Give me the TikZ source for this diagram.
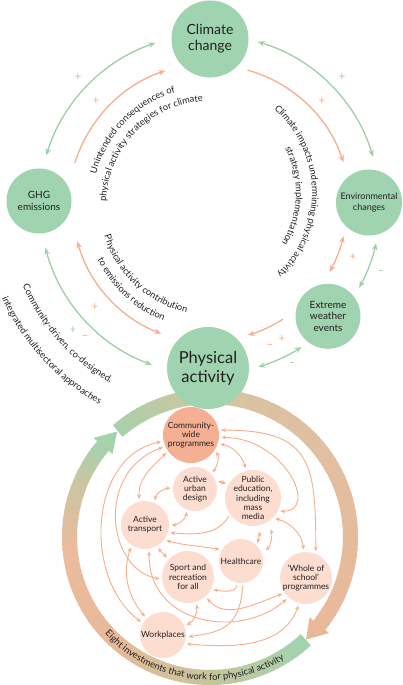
\documentclass[tikz,border=0pt]{standalone}
\usepackage{fontspec}
\setmainfont{Lato}
\usetikzlibrary{arrows.meta,calc,decorations.text}
\definecolor{gfill}{HTML}{A0D4B0}
\definecolor{garr}{HTML}{9CCFA8}
\definecolor{oarr}{HTML}{F7AE8B}
\definecolor{lfill}{HTML}{FDDDD0}
\definecolor{dfill}{HTML}{F5B093}
\definecolor{txt}{HTML}{231F20}
\definecolor{rA}{HTML}{A0D4AF}
\definecolor{rB}{HTML}{C6C59C}
\definecolor{rC}{HTML}{E9B99A}
\definecolor{rD}{HTML}{EBBB9D}
\definecolor{rE}{HTML}{CFC3A0}
\definecolor{rF}{HTML}{A5D2AD}
\definecolor{sA}{HTML}{A9D0AA}
\definecolor{sB}{HTML}{C3C9A3}
\definecolor{sC}{HTML}{D8C3A1}
\definecolor{sD}{HTML}{E3BEA0}
\definecolor{sE}{HTML}{E9B899}
\newcommand\looptxtfont{\fontsize{9.3}{11}\selectfont}
\newcommand\ringtxtfont{\fontsize{9.3}{11}\selectfont}
\newcommand\ringseg[5]{%
  \foreach \k in {1,...,#5}{%
    \pgfmathsetmacro\rsA{(#1)+((#2)-(#1))*(\k-1)/#5}%
    \pgfmathsetmacro\rsB{(#1)+((#2)-(#1))*(\k+0.3)/#5}%
    \pgfmathsetmacro\rsP{100*(\k-0.5)/#5}%
    \colorlet{segc}{#4!\rsP!#3}%
    \draw[segc,line width=15pt] ($(rc)+(\rsA:140.5)$) arc[start angle=\rsA,end angle=\rsB,radius=140.5];%
  }}
\tikzset{
  loopnode/.style={circle,fill=gfill,inner sep=0pt},
  invnode/.style={circle,fill=lfill,inner sep=0pt},
  llab/.style={text=txt,align=center,inner sep=0pt},
  ilab/.style={text=txt,align=center,inner sep=0pt,font=\fontsize{8.5}{9.2}\selectfont},
  garrow/.style={draw=garr,line width=1.3pt,>={Stealth[length=7pt,width=5.5pt,inset=2.5pt]}},
  oarrow/.style={draw=oarr,line width=1.3pt,>={Stealth[length=7pt,width=5.5pt,inset=2.5pt]}},
  ia/.style={draw=oarr,line width=0.9pt,>={Stealth[length=4.5pt,width=4pt,inset=1.5pt]},shorten <=2.5pt,shorten >=2.5pt},
  gpm/.style={text=garr,inner sep=0pt,font=\fontsize{11.5}{11.5}\selectfont},
  opm/.style={text=oarr,inner sep=0pt,font=\fontsize{11.5}{11.5}\selectfont},
}
\begin{document}
\begin{tikzpicture}[x=1pt,y=1pt]
\useasboundingbox (0,0) rectangle (403,685);
\fill[white] (0,0) rectangle (403,685);
\coordinate (O) at (210,480);
\coordinate (Or) at (200,492);
\coordinate (rc) at (210,148);

% ---- ring arrows ----
\ringseg{-47}{-90}{rA}{rB}{20}
\ringseg{-90}{-135}{rB}{rC}{20}
\ringseg{-135}{-175}{rC}{rD}{16}
\ringseg{-175}{-200}{rD}{rE}{10}
\ringseg{-200}{-220.4}{rE}{rF}{10}
\ringseg{131}{105}{sA}{sB}{12}
\ringseg{105}{80}{sB}{sC}{12}
\ringseg{80}{30}{sC}{sD}{20}
\ringseg{30}{-38.9}{sD}{sE}{28}
\fill[rF] ($(rc)+(139.6:153)$) -- ($(rc)+(131.4:140.5)$) -- ($(rc)+(139.6:128)$) -- cycle;
\fill[sE] ($(rc)+(-38.9:153)$) -- ($(rc)+(-46.9:140.5)$) -- ($(rc)+(-38.9:128)$) -- cycle;
\path[decorate,decoration={text along path,text align=center,text color=txt,
  text={|\ringtxtfont|Eight investments that work for physical activity}}]
  ($(rc)+(-175:143)$) arc[start angle=-175,end angle=-21,radius=143];

% ---- investment nodes ----
\node[invnode,fill=dfill,minimum size=56pt,label={[ilab]center:{Community-\\wide\\programmes}}] (cwp) at (191,250) {};
\node[invnode,minimum size=44pt,label={[ilab]center:{Active\\urban\\design}}] (aud) at (195,196) {};
\node[invnode,minimum size=56pt,label={[ilab]center:{Public\\education,\\including\\mass\\media}}] (pe) at (253,187) {};
\node[invnode,minimum size=48pt,label={[ilab]center:{Active\\transport}}] (at) at (145,160) {};
\node[invnode,minimum size=44pt,label={[ilab]center:{Healthcare}}] (hc) at (241,124) {};
\node[invnode,minimum size=52pt,label={[ilab]center:{Sport and\\recreation\\for all}}] (sr) at (188,108) {};
\node[invnode,minimum size=52pt,label={[ilab]center:{‘Whole of\\school’\\programmes}}] (ws) at (306,107) {};
\node[invnode,minimum size=46pt,label={[ilab]center:{Workplaces}}] (wp) at (163,50) {};

% ---- investment links ----
\draw[ia,<->] (cwp.-32) to[out=-60,in=55] (aud.42);
\draw[ia,<->] (cwp.-18) to[out=-10,in=105] (pe.104);
\draw[ia,<->] (aud.22) -- (pe.150);
\draw[ia,<->] (cwp.215) to[out=225,in=95] (at.103);
\draw[ia,<->] (at.66) to[out=85,in=180] (aud.178);
\draw[ia,<->] (at.0) to[out=0,in=-95] (aud.-112);
\draw[ia,->] (pe.215) to[out=240,in=-5] (at.-18);
\draw[ia,<->] (at.-38) to[out=-15,in=170] (hc.150);
\draw[ia,<->] (at.-62) -- (sr.138);
\draw[ia,<->,shorten <=7pt] (pe.-72) -- (hc.44);
\draw[ia,<->,shorten <=8pt,shorten >=5pt] (pe.-58) to[out=-70,in=40] (hc.20);
\draw[ia,<->] (cwp.10) to[out=0,in=90,looseness=1.5] (ws.68);
\draw[ia,<->] (cwp.-5) .. controls +(65,0) and +(42,0) .. (pe.-28);
\draw[ia,<->] (pe.-45) to[out=-15,in=95] (ws.95);
\draw[ia,<->] (cwp.193) .. controls +(-75,-15) and +(-60,45) .. (wp.150);
\draw[ia,<->] (cwp.204) .. controls +(-70,-25) and +(-55,10) .. (sr.185);
\draw[ia,<->] (at.237) to[out=250,in=130] (wp.135);
\draw[ia,<->] (at.-80) .. controls (148,60) and (240,45) .. (ws.228);
\draw[ia,->] (hc.-85) .. controls +(-3,-45) and +(35,5) .. (wp.-5);
\draw[ia,<->] (ws.255) to[out=250,in=-5] (wp.-22);
\draw[ia,<->] (sr.-48) to[out=-50,in=200] (ws.215);
\draw[ia,->] (hc.-100) to[out=-95,in=-10] (sr.-28);
\draw[ia,<->] (sr.-72) to[out=-80,in=30] (wp.22);

% ---- loop nodes ----
\node[loopnode,minimum size=77pt,label={[llab,font=\fontsize{14}{16}\selectfont]center:{Climate\\change}}] (cc) at (210,646) {};
\node[loopnode,minimum size=65pt,label={[llab,font=\fontsize{10}{12}\selectfont]center:{GHG\\emissions}}] (ghg) at (39,484) {};
\node[loopnode,minimum size=66pt,label={[llab,font=\fontsize{9}{11}\selectfont]center:{Environmental\\changes}}] (env) at (369,482.5) {};
\node[loopnode,minimum size=65pt,label={[llab,font=\fontsize{10}{11.7}\selectfont]center:{Extreme\\weather\\events}}] (ewe) at (328,368.7) {};
\node[loopnode,minimum size=82pt,label={[llab,font=\fontsize{16.5}{19}\selectfont]center:{Physical\\activity}}] (pa) at (208,317) {};

% ---- loop arcs ----
\draw[garrow,<->] ($(O)+(108.6:171)$) arc[start angle=108.6,end angle=163.1,radius=171];
\draw[oarrow,->] ($(O)+(162.7:141.5)$) arc[start angle=162.7,end angle=108.4,radius=141.5];
\draw[garrow,<->] ($(O)+(73.7:170)$) arc[start angle=73.7,end angle=16.5,radius=170];
\draw[oarrow,->] ($(O)+(74.5:140)$) arc[start angle=74.5,end angle=17.7,radius=140];
\draw[oarrow,<->] ($(O)+(195.3:137.5)$) arc[start angle=195.3,end angle=249.2,radius=137.5];
\draw[garrow,<->] ($(O)+(194.6:170)$) arc[start angle=194.6,end angle=250,radius=170];
\draw[oarrow,->] ($(O)+(302.6:135.5)$) arc[start angle=302.6,end angle=286.2,radius=135.5];
\draw[garrow,<->] ($(O)+(286.6:169)$) arc[start angle=286.6,end angle=302.8,radius=169];
\draw[oarrow,<->] ($(O)+(346.9:137)$) arc[start angle=346.9,end angle=330.8,radius=137];
\draw[garrow,<->] ($(O)+(331:170.5)$) arc[start angle=331,end angle=347,radius=170.5];

% ---- signs ----
\node[gpm] (s1) at (78,608) {+};
\node[opm] (s2) at (96,584) {+};
\node[gpm] (s3) at (342,608) {+};
\node[opm] (s4) at (322,584) {+};
\node[opm] (s5) at (353,428) {+};
\node[gpm] (s6) at (381,412) {–};
\node[opm] (s7) at (270,338) {–};
\node[opm] (s8) at (282,346) {+};
\node[gpm] (s9) at (292,320) {–};
\node[opm] (s10) at (95,378) {+};
\node[gpm] (s11) at (73,355) {+};
\node[gpm] (s12) at (85,347) {–};

% ---- curved labels ----
\path[decorate,decoration={text along path,text align=center,text color=txt,
  text={|\looptxtfont|Unintended consequences of}}]
  ($(O)+(190:118)$) arc[start angle=190,end angle=82,radius=118];
\path[decorate,decoration={text along path,text align=center,text color=txt,
  text={|\looptxtfont|physical activity strategies for climate}}]
  ($(O)+(196:104)$) arc[start angle=196,end angle=76,radius=104];
\path[decorate,decoration={text along path,text align=center,text color=txt,
  text={|\looptxtfont|Climate impacts undermining physical activity}}]
  ($(Or)+(82:112)$) arc[start angle=82,end angle=-80,radius=112];
\path[decorate,decoration={text along path,text align=center,text color=txt,
  text={|\looptxtfont|strategy implementation}}]
  ($(Or)+(62:96)$) arc[start angle=62,end angle=-66,radius=96];
\path[decorate,decoration={text along path,text align=center,text color=txt,
  text={|\looptxtfont|Physical activity contribution}}]
  ($(O)+(170:110)$) arc[start angle=170,end angle=284,radius=110];
\path[decorate,decoration={text along path,text align=center,text color=txt,
  text={|\looptxtfont|to emissions reduction}}]
  ($(O)+(180:125)$) arc[start angle=180,end angle=274,radius=125];
\path[decorate,decoration={text along path,text align=center,text color=txt,
  text={|\looptxtfont|Community-driven, co-designed,}}]
  ($(O)+(180:204)$) arc[start angle=180,end angle=264,radius=204];
\path[decorate,decoration={text along path,text align=center,text color=txt,
  text={|\looptxtfont|integrated multisectoral approaches}}]
  ($(O)+(180:228)$) arc[start angle=180,end angle=265,radius=228];
\end{tikzpicture}
\end{document}
